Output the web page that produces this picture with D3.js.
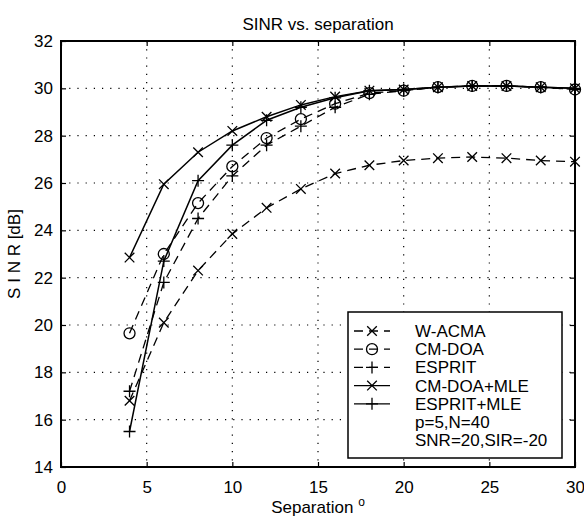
<!DOCTYPE html>
<html>
<head>
<meta charset="utf-8">
<script src="https://cdn.jsdelivr.net/npm/d3@7"></script>
<style>
  body { margin: 0; background: #fff; }
  text { font-family: "Liberation Sans", Arial, Helvetica, sans-serif; fill: #000; }
</style>
</head>
<body>
<div id="chart"></div>
<script>
// separation in degrees
var separation = [4, 6, 8, 10, 12, 14, 16, 18, 20, 22, 24, 26, 28, 30];

// SINR [dB] per method
var wacma     = [16.8, 20.1, 22.3, 23.85, 24.95, 25.75, 26.4, 26.75, 26.95, 27.05, 27.1, 27.05, 26.95, 26.9];
var cmdoa     = [19.65, 23.0, 25.15, 26.7, 27.9, 28.7, 29.35, 29.8, 29.9, 30.05, 30.1, 30.1, 30.05, 29.95];
var esprit    = [17.2, 21.8, 24.5, 26.3, 27.6, 28.4, 29.2, 29.75, 29.9, 30.05, 30.1, 30.1, 30.05, 29.95];
var cmdoaMle  = [22.85, 25.95, 27.3, 28.2, 28.8, 29.3, 29.65, 29.9, 29.95, 30.05, 30.1, 30.1, 30.05, 30.0];
var espritMle = [15.5, 22.7, 26.1, 27.6, 28.65, 29.2, 29.6, 29.9, 29.95, 30.05, 30.1, 30.1, 30.05, 30.0];

var seriesNames = ["W-ACMA", "CM-DOA", "ESPRIT", "CM-DOA+MLE", "ESPRIT+MLE"];
var xTicks = [0, 5, 10, 15, 20, 25, 30];
var yTicks = [14, 16, 18, 20, 22, 24, 26, 28, 30, 32];
var noteLines = ["p=5,N=40", "SNR=20,SIR=-20"];

var series = [
  {name: seriesNames[0], values: wacma,     dash: "9,6", marker: "x"},
  {name: seriesNames[1], values: cmdoa,     dash: "9,6", marker: "o"},
  {name: seriesNames[2], values: esprit,    dash: "9,6", marker: "+"},
  {name: seriesNames[3], values: cmdoaMle,  dash: null,  marker: "x"},
  {name: seriesNames[4], values: espritMle, dash: null,  marker: "+"}
];

var margin = {top: 41, right: 9, bottom: 51, left: 61};
var width = 584 - margin.left - margin.right;
var height = 518 - margin.top - margin.bottom;

var x = d3.scaleLinear().domain([0, 30]).range([0, width]);
var y = d3.scaleLinear().domain([14, 32]).range([height, 0]);

var svg = d3.select("#chart").append("svg")
    .attr("width", 584)
    .attr("height", 518)
  .append("g")
    .attr("transform", "translate(" + margin.left + "," + margin.top + ")");

// dotted grid
svg.append("g").selectAll("line")
    .data(xTicks.slice(1, -1))
    .enter().append("line")
    .attr("x1", d => x(d)).attr("x2", d => x(d))
    .attr("y1", 0).attr("y2", height)
    .attr("stroke", "#000").attr("stroke-width", 1.2)
    .attr("stroke-dasharray", "1.2,7");
svg.append("g").selectAll("line")
    .data(yTicks.slice(1, -1))
    .enter().append("line")
    .attr("y1", d => y(d)).attr("y2", d => y(d))
    .attr("x1", 0).attr("x2", width)
    .attr("stroke", "#000").attr("stroke-width", 1.2)
    .attr("stroke-dasharray", "1.2,7");

// axes, ticks inward
var xAxis = svg.append("g")
    .attr("transform", "translate(0," + height + ")")
    .call(d3.axisBottom(x).tickValues(xTicks).tickSizeInner(-5).tickSizeOuter(0).tickPadding(14));
var yAxis = svg.append("g")
    .call(d3.axisLeft(y).tickValues(yTicks).tickSizeInner(-5).tickSizeOuter(0).tickPadding(8));
svg.append("g")
    .call(d3.axisTop(x).tickValues(xTicks).tickSizeInner(-5).tickSizeOuter(0).tickFormat(""));
svg.append("g")
    .attr("transform", "translate(" + width + ",0)")
    .call(d3.axisRight(y).tickValues(yTicks).tickSizeInner(-5).tickSizeOuter(0).tickFormat(""));
svg.selectAll(".domain").remove();
svg.selectAll(".tick line").attr("stroke", "#000").attr("stroke-width", 1.2);
svg.selectAll(".tick text").style("font-size", "17px").attr("fill", "#000");

svg.append("rect")
    .attr("width", width).attr("height", height)
    .attr("fill", "none").attr("stroke", "#000").attr("stroke-width", 2);

function markerPath(type, s) {
  if (type === "x") return "M" + (-s) + "," + (-s) + "L" + s + "," + s + "M" + (-s) + "," + s + "L" + s + "," + (-s);
  if (type === "+") return "M" + (-s * 1.25) + ",0L" + (s * 1.25) + ",0M0," + (-s * 1.25) + "L0," + (s * 1.25);
  return null;
}

function drawMarker(g, type, cx, cy) {
  if (type === "o") {
    g.append("circle").attr("cx", cx).attr("cy", cy).attr("r", 5.5)
      .attr("fill", "none").attr("stroke", "#000").attr("stroke-width", 1.3);
  } else {
    g.append("path").attr("transform", "translate(" + cx + "," + cy + ")")
      .attr("d", markerPath(type, 4.8))
      .attr("fill", "none").attr("stroke", "#000").attr("stroke-width", 1.3);
  }
}

var line = d3.line()
    .x((d, i) => x(separation[i]))
    .y(d => y(d));

series.forEach(function(s) {
  var g = svg.append("g");
  g.append("path")
    .attr("d", line(s.values))
    .attr("fill", "none")
    .attr("stroke", "#000")
    .attr("stroke-width", s.dash ? 1.3 : 1.5)
    .attr("stroke-dasharray", s.dash);
  s.values.forEach(function(v, i) {
    drawMarker(g, s.marker, x(separation[i]), y(v));
  });
});

// title and axis labels
svg.append("text")
    .attr("x", width / 2).attr("y", -11)
    .attr("text-anchor", "middle")
    .style("font-size", "17px")
    .text("SINR vs. separation");

var xl = svg.append("text")
    .attr("x", width / 2).attr("y", height + 46)
    .attr("text-anchor", "middle")
    .style("font-size", "17px");
xl.append("tspan").text("Separation ");
xl.append("tspan").attr("dy", -7).style("font-size", "12px").text("o");

svg.append("text")
    .attr("transform", "translate(-41," + (height / 2) + ") rotate(-90)")
    .attr("text-anchor", "middle")
    .style("font-size", "17px")
    .text("S I N R [dB]");

// legend
var legend = svg.append("g").attr("transform", "translate(" + (348 - margin.left) + "," + (312 - margin.top) + ")");
legend.append("rect")
    .attr("width", 214).attr("height", 146)
    .attr("fill", "#fff").attr("stroke", "#000").attr("stroke-width", 1.5);
var rowH = 18.2;
series.forEach(function(s, i) {
  var cy = 19 + i * rowH;
  var g = legend.append("g");
  g.append("line")
    .attr("x1", 6).attr("x2", 42).attr("y1", cy).attr("y2", cy)
    .attr("stroke", "#000").attr("stroke-width", 1.3)
    .attr("stroke-dasharray", s.dash);
  drawMarker(g, s.marker, 24, cy);
  legend.append("text")
    .attr("x", 67).attr("y", cy + 6)
    .style("font-size", "17px")
    .text(s.name);
});
noteLines.forEach(function(t, j) {
  legend.append("text")
    .attr("x", 67).attr("y", 19 + (5 + j) * rowH + 6)
    .style("font-size", "17px")
    .text(t);
});
</script>
</body>
</html>
